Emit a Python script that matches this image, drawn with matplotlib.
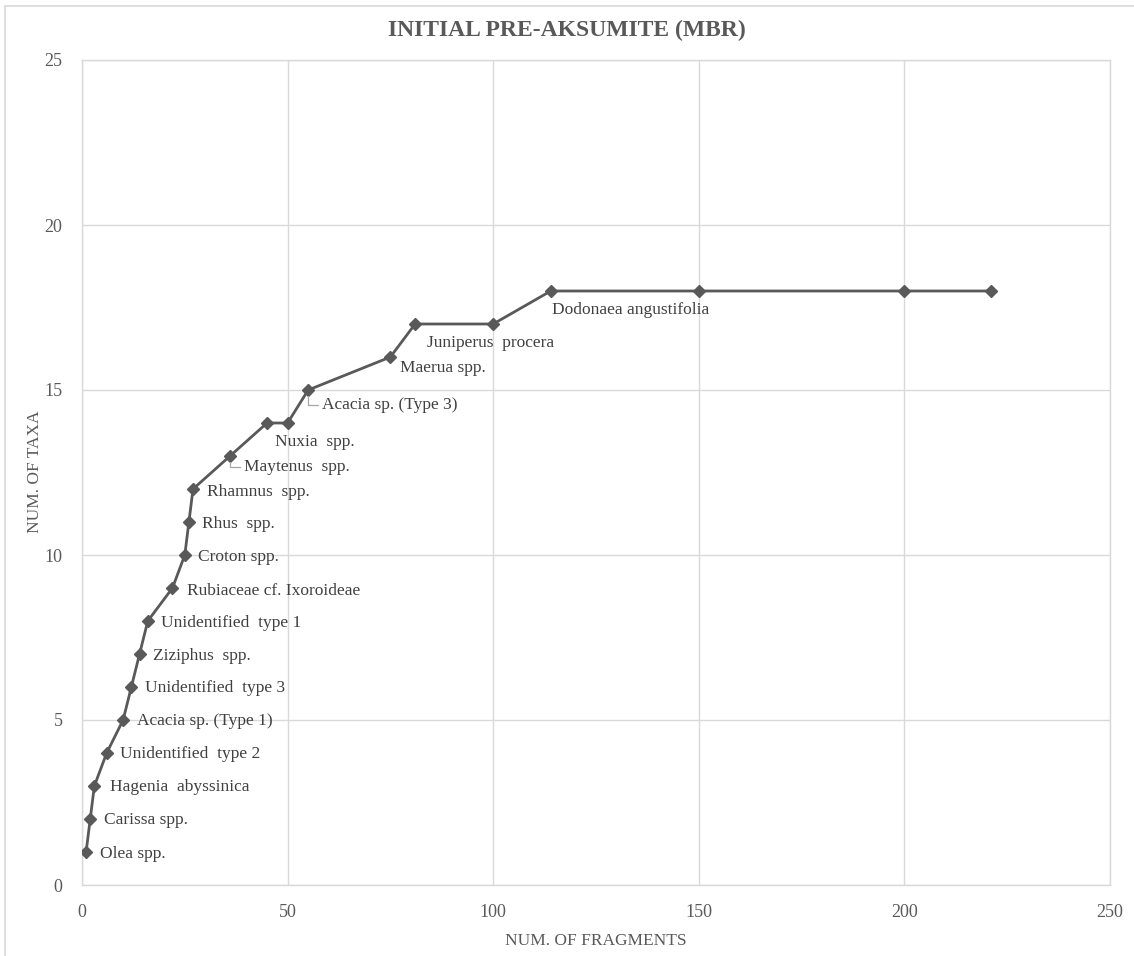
import matplotlib
matplotlib.use("Agg")
import matplotlib.pyplot as plt
from matplotlib.patches import Rectangle

# ---- data ----
fragments = [1, 2, 3, 6, 10, 12, 14, 16, 22, 25, 26, 27, 36, 45, 50, 55, 75, 81, 100, 114, 150, 200, 221]
taxa      = [1, 2, 3, 4, 5, 6, 7, 8, 9, 10, 11, 12, 13, 14, 14, 15, 16, 17, 17, 18, 18, 18, 18]

labels = ["Olea spp.", "Carissa spp.", "Hagenia  abyssinica", "Unidentified  type 2",
          "Acacia sp. (Type 1)", "Unidentified  type 3", "Ziziphus  spp.", "Unidentified  type 1",
          "Rubiaceae cf. Ixoroideae", "Croton spp.", "Rhus  spp.", "Rhamnus  spp.",
          "Maytenus  spp.", "Nuxia  spp.", "Acacia sp. (Type 3)", "Maerua spp.",
          "Juniperus  procera", "Dodonaea angustifolia"]
label_idx = [0, 1, 2, 3, 4, 5, 6, 7, 8, 9, 10, 11, 12, 13, 15, 16, 17, 19]

x_ticks = [0, 50, 100, 150, 200, 250]
y_ticks = [0, 5, 10, 15, 20, 25]

title = "INITIAL PRE-AKSUMITE (MBR)"
xlabel = "NUM. OF FRAGMENTS"
ylabel = "NUM. OF TAXA"

# ---- style ----
W, H, DPI = 1134, 956, 100
plt.rcParams['font.family'] = ['Liberation Serif', 'DejaVu Serif']
line_col = "#595959"
grid_col = "#d9d9d9"
txt_col = "#404040"

fig = plt.figure(figsize=(W / DPI, H / DPI), dpi=DPI)
ax = fig.add_axes([82 / W, 1 - 885 / H, (1110 - 82) / W, (885 - 60) / H])

ax.plot(fragments, taxa, color=line_col, lw=2.0, marker='D', ms=6,
        mfc=line_col, mec=line_col, zorder=3)

ax.set_xlim(0, 250)
ax.set_ylim(0, 25)
ax.set_xticks(x_ticks)
ax.set_yticks(y_ticks)
ax.grid(True, color=grid_col, lw=1.0)
ax.set_axisbelow(True)
for s in ax.spines.values():
    s.set_color(grid_col)
    s.set_linewidth(1.0)
ax.tick_params(length=0, labelsize=13, labelcolor=line_col)
ax.tick_params(axis='x', pad=14)
ax.tick_params(axis='y', pad=14)

# label offsets in pixels (dx, dy)
offsets = [(14, -2), (14, -1), (16, -1), (13, -1), (14, -1), (14, -1), (13, -2), (13, -2),
           (15, -3), (13, -2), (13, -2), (14, -3), (14, -11), (8, -19), (14, -15),
           (10, -11), (12, -19), (1, -19)]
leaders = {"Maytenus  spp.", "Acacia sp. (Type 3)"}

for lab, i, (dx, dy) in zip(labels, label_idx, offsets):
    kw = {}
    if lab in leaders:
        kw['arrowprops'] = dict(arrowstyle='-', color='#a6a6a6', lw=0.9,
                                connectionstyle="angle,angleA=0,angleB=90,rad=0",
                                shrinkA=1, shrinkB=4, relpos=(0, 0.5))
    ax.annotate(lab, xy=(fragments[i], taxa[i]), xytext=(dx, dy),
                textcoords='offset pixels', ha='left', va='center',
                fontsize=12.5, color=txt_col, **kw)

fig.text(0.5, 1 - 30 / H, title, ha='center', va='center', fontsize=17,
         fontweight='bold', color=line_col)
fig.text(596 / W, 1 - 941 / H, xlabel, ha='center', va='center', fontsize=12.5, color=line_col)
fig.text(35 / W, 1 - 472 / H, ylabel, ha='center', va='center', rotation=90,
         fontsize=12.5, color=line_col)

# outer chart border
fig.add_artist(Rectangle((5 / W, -0.1), 1.2, 1.1 - 6 / H, transform=fig.transFigure,
                         fill=False, ec=grid_col, lw=1.2))

fig.savefig("out.png", dpi=DPI, facecolor='white')
